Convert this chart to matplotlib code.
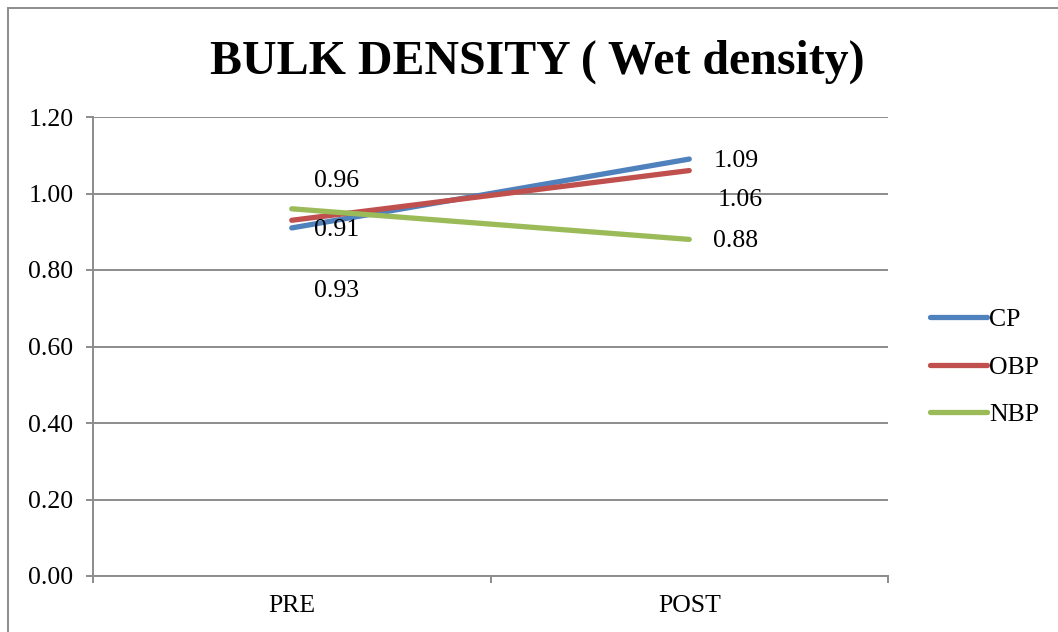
import matplotlib
matplotlib.use("Agg")
import matplotlib.pyplot as plt
from matplotlib.patches import Rectangle

categories = ["PRE", "POST"]
cp = [0.91, 1.09]
obp = [0.93, 1.06]
nbp = [0.96, 0.88]
series_names = ["CP", "OBP", "NBP"]
colors = ["#4F81BD", "#C0504D", "#9BBB59"]
yticks = [0.0, 0.2, 0.4, 0.6, 0.8, 1.0, 1.2]

plt.rcParams['font.family'] = ['Liberation Serif', 'DejaVu Serif']

W, H = 1058, 632
FS = 18.5
fig = plt.figure(figsize=(W / 100, H / 100), dpi=100)
ax = fig.add_axes([93 / W, 1 - 576 / H, (888 - 93) / W, (576 - 117) / H])

x = list(range(len(categories)))
# label offsets in pixels (dx, dy) for each series/point
offsets = {
    "CP": [(45, -2), (47, -2)],
    "OBP": [(45, -71), (51, -29)],
    "NBP": [(45, 28), (46, -2)],
}
for name, vals, c in zip(series_names, [cp, obp, nbp], colors):
    ax.plot(x, vals, color=c, lw=3.8, solid_capstyle='round', label=name, zorder=3)
    for xi, v, (dx, dy) in zip(x, vals, offsets[name]):
        ax.annotate(f"{v:.2f}", (xi, v), xytext=(dx * 0.72, dy * 0.72),
                    textcoords='offset points', ha='center', va='center',
                    fontsize=FS, zorder=4)

ax.set_xlim(-0.5, 1.5)
ax.set_ylim(0, 1.2)
ax.set_yticks(yticks)
ax.set_yticklabels([f"{t:.2f}" for t in yticks], fontsize=FS)
ax.yaxis.grid(True, color='#8c8c8c', lw=1.4)
ax.set_axisbelow(True)
ax.set_xticks(x)
ax.set_xticklabels(categories, fontsize=FS)
ax.tick_params(axis='x', length=0, pad=14)
ax.set_xticks([-0.5, 0.5, 1.5], minor=True)
ax.tick_params(axis='x', which='minor', length=5, color='#8c8c8c', width=1.4, direction='out')
ax.tick_params(axis='y', length=5, color='#8c8c8c', width=1.4, pad=9)
for s in ['top', 'right']:
    ax.spines[s].set_visible(False)
for s in ['left', 'bottom']:
    ax.spines[s].set_color('#8c8c8c')
    ax.spines[s].set_linewidth(1.4)

leg = ax.legend(loc='center left', bbox_to_anchor=(1.04, 0.455), frameon=False,
                fontsize=FS, handlelength=2.2, handletextpad=0.1, labelspacing=0.95,
                borderaxespad=0)

fig.text(537 / W, 1 - 62 / H, "BULK DENSITY ( Wet density)", ha='center', va='center',
         fontsize=34.5, fontweight='bold')

fig.patches.append(Rectangle((8 / W, -0.1), 2, 1 - 8 / H + 0.1, transform=fig.transFigure,
                             fill=False, edgecolor='#8c8c8c', lw=1.4, clip_on=False))

fig.savefig("out.png", dpi=100)
